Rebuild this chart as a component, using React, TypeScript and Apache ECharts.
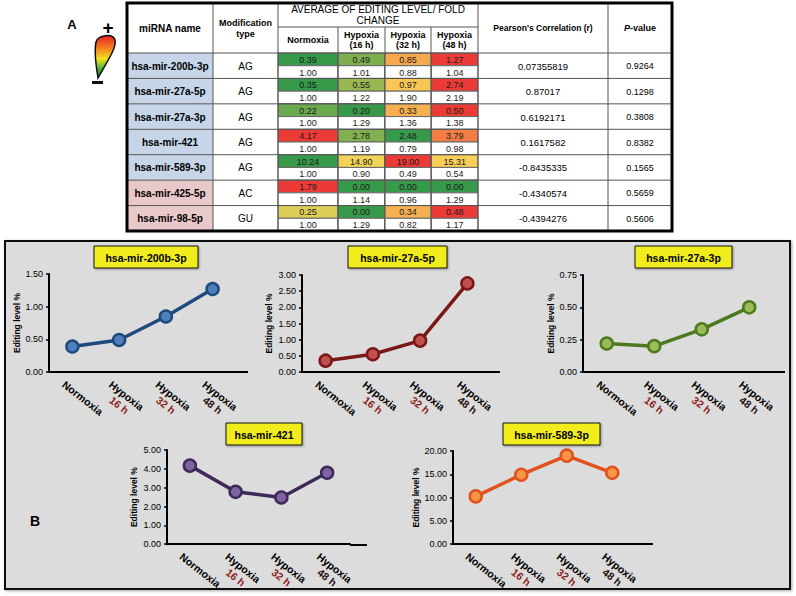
import React, { useEffect, useRef } from 'react';
import * as echarts from 'echarts';

// ---------------- DATA ----------------
const mirnas = ['hsa-mir-200b-3p', 'hsa-mir-27a-5p', 'hsa-mir-27a-3p', 'hsa-mir-421', 'hsa-mir-589-3p', 'hsa-mir-425-5p', 'hsa-mir-98-5p'];
const modTypes = ['AG', 'AG', 'AG', 'AG', 'AG', 'AC', 'GU'];
const condMain = ['Normoxia', 'Hypoxia', 'Hypoxia', 'Hypoxia'];
const condSub = ['', '16 h', '32 h', '48 h'];
const tableTimeHeaders = ['Normoxia', 'Hypoxia\n(16 h)', 'Hypoxia\n(32 h)', 'Hypoxia\n(48 h)'];

const edit200b = [0.39, 0.49, 0.85, 1.27];
const edit27a5p = [0.35, 0.55, 0.97, 2.74];
const edit27a3p = [0.22, 0.20, 0.33, 0.50];
const edit421 = [4.17, 2.78, 2.48, 3.79];
const edit589 = [10.24, 14.90, 19.00, 15.31];
const edit425 = [1.79, 0.00, 0.00, 0.00];
const edit98 = [0.25, 0.00, 0.34, 0.48];
const editingLevels = [edit200b, edit27a5p, edit27a3p, edit421, edit589, edit425, edit98];

const fold200b = [1.00, 1.01, 0.88, 1.04];
const fold27a5p = [1.00, 1.22, 1.90, 2.19];
const fold27a3p = [1.00, 1.29, 1.36, 1.38];
const fold421 = [1.00, 1.19, 0.79, 0.98];
const fold589 = [1.00, 0.90, 0.49, 0.54];
const fold425 = [1.00, 1.14, 0.96, 1.29];
const fold98 = [1.00, 1.29, 0.82, 1.17];
const foldChanges = [fold200b, fold27a5p, fold27a3p, fold421, fold589, fold425, fold98];

const pearsonR = ['0.07355819', '0.87017', '0.6192171', '0.1617582', '-0.8435335', '-0.4340574', '-0.4394276'];
const pValues = ['0.9264', '0.1298', '0.3808', '0.8382', '0.1565', '0.5659', '0.5606'];

const yMax = [1.5, 3, 0.75, 5, 20];
const yInterval = [0.5, 0.5, 0.25, 1, 5];
const yAxisName = 'Editing level %';

// ---------------- STYLE / LAYOUT ----------------
const FONT = '"Liberation Sans", Arial, Helvetica, sans-serif';
const GREEN = '#37994a';
const YELLOW = '#fad65a';
const RED = '#ec3b36';

const lineColors = ['#1f4a7c', '#7a1818', '#4d7a1f', '#3d2a5a', '#e0531c'];
const markerColors = ['#4f80bd', '#c0504d', '#9bbb59', '#8064a2', '#f79646'];

const chartLayout = [
  { left: 49, top: 274, width: 187, height: 98, axisEnd: 248, nameGap: 27, box: [94, 246, 104, 22] },
  { left: 302, top: 275, width: 189, height: 97, axisEnd: 500, nameGap: 29, box: [348, 246, 99, 22] },
  { left: 583, top: 275, width: 190, height: 97, axisEnd: 785, nameGap: 26, box: [635, 246, 97, 22] },
  { left: 167, top: 450, width: 183, height: 95, axisEnd: 367, nameGap: 29, box: [226, 423, 76, 22] },
  { left: 453, top: 451, width: 182, height: 93, axisEnd: 653, nameGap: 33, box: [503, 423, 97, 22] },
];

const TX = [127, 213, 278, 338, 385, 431, 478, 608, 672];
const TY = { top: 3, mid: 27, head: 53, bottom: 231 };

// drop-shaped colour-scale icon
echarts.graphic.registerShape(
  'dropIcon',
  echarts.graphic.extendPath('M4 46 C2 34 0 20 2 10 C4 3 19 1 21 8 C23 16 12 31 4 46 Z', {})
);

function hexToRgb(h: string) {
  const n = parseInt(h.slice(1), 16);
  return [(n >> 16) & 255, (n >> 8) & 255, n & 255];
}
function mix(a: string, b: string, t: number) {
  const A = hexToRgb(a), B = hexToRgb(b);
  const c = A.map((v, i) => Math.round(v + (B[i] - v) * t));
  return `rgb(${c[0]},${c[1]},${c[2]})`;
}
function rowColors(vals: number[]) {
  const s = [...vals].sort((a, b) => a - b);
  const min = s[0], max = s[s.length - 1];
  const n = s.length;
  const mid = n % 2 ? s[(n - 1) / 2] : (s[n / 2 - 1] + s[n / 2]) / 2;
  return vals.map((v) => {
    if (v <= mid) {
      const t = mid === min ? 0 : (v - min) / (mid - min);
      return mix(GREEN, YELLOW, t);
    }
    const t = max === mid ? 1 : (v - mid) / (max - mid);
    return mix(YELLOW, RED, t);
  });
}

function txt(text: string, x: number, y: number, size: number, weight = 'normal', extra: any = {}) {
  return {
    type: 'text', x, y, z: 12,
    style: {
      text, fill: '#000', fontSize: size, fontWeight: weight, fontFamily: FONT,
      textAlign: 'center', textVerticalAlign: 'middle', ...extra,
    },
  };
}
function hline(x1: number, x2: number, y: number, color = '#555', w = 1, z = 11) {
  return { type: 'line', z, shape: { x1, y1: y, x2, y2: y }, style: { stroke: color, lineWidth: w } };
}
function vline(x: number, y1: number, y2: number, color = '#555', w = 1, z = 11) {
  return { type: 'line', z, shape: { x1: x, y1, x2: x, y2 }, style: { stroke: color, lineWidth: w } };
}

function buildOption() {
  const rowH = (TY.bottom - TY.head) / mirnas.length;
  const graphics: any[] = [];

  // ---- panel A: icon & label ----
  graphics.push(txt('A', 72, 24, 13, 'bold'));
  graphics.push({
    type: 'dropIcon', x: 94, y: 32, z: 12,
    style: {
      fill: new echarts.graphic.LinearGradient(0, 0, 0, 1, [
        { offset: 0, color: '#e8202a' },
        { offset: 0.3, color: '#f58220' },
        { offset: 0.55, color: '#f3e31c' },
        { offset: 0.78, color: '#4fb040' },
        { offset: 1, color: '#1b7a2e' },
      ]),
      stroke: '#111', lineWidth: 1.5,
    },
  });
  graphics.push(txt('+', 108, 27, 19, 'bold'));
  graphics.push({ type: 'rect', z: 12, shape: { x: 92, y: 81, width: 11, height: 3 }, style: { fill: '#111' } });

  // ---- table ----
  graphics.push({ type: 'rect', z: -2, shape: { x: TX[0], y: TY.top, width: TX[8] - TX[0], height: TY.bottom - TY.top }, style: { fill: '#fff' } });
  mirnas.forEach((name, i) => {
    const y = TY.head + i * rowH;
    graphics.push({
      type: 'rect', z: -1,
      shape: { x: TX[0], y, width: TX[1] - TX[0], height: rowH },
      style: { fill: modTypes[i] === 'AG' ? '#c6d5e8' : '#e8c8c8' },
    });
    const cy = y + rowH / 2 + 0.5;
    graphics.push(txt(name, (TX[0] + TX[1]) / 2, cy, 10, 'bold'));
    graphics.push(txt(modTypes[i], (TX[1] + TX[2]) / 2, cy, 10));
    graphics.push(txt(pearsonR[i], (TX[6] + TX[7]) / 2, cy, 9.5));
    graphics.push(txt(pValues[i], (TX[7] + TX[8]) / 2, cy, 9));
    graphics.push(hline(TX[0], TX[8], y));
  });
  [1, 2, 6, 7].forEach((k) => graphics.push(vline(TX[k], TY.top, TY.bottom)));
  [3, 4, 5].forEach((k) => graphics.push(vline(TX[k], TY.mid, TY.bottom)));
  graphics.push(hline(TX[2], TX[6], TY.mid));
  graphics.push({
    type: 'rect', z: 13,
    shape: { x: TX[0], y: TY.top, width: TX[8] - TX[0], height: TY.bottom - TY.top },
    style: { fill: 'none', stroke: '#000', lineWidth: 3 },
  });
  // header texts
  graphics.push(txt('miRNA name', (TX[0] + TX[1]) / 2, 28, 10, 'bold'));
  graphics.push(txt('Modification\ntype', (TX[1] + TX[2]) / 2, 28, 9, 'bold', { lineHeight: 11 }));
  graphics.push(txt('AVERAGE OF EDITING LEVEL/ FOLD\nCHANGE', (TX[2] + TX[6]) / 2, 15, 10, 'normal', { lineHeight: 11 }));
  tableTimeHeaders.forEach((h, k) => {
    graphics.push(txt(h, (TX[2 + k] + TX[3 + k]) / 2, 40, 9, 'bold', { lineHeight: 10 }));
  });
  graphics.push(txt("Pearson's Correlation (r)", (TX[6] + TX[7]) / 2, 28, 8.5, 'bold'));
  graphics.push(txt('{i|P}-value', (TX[7] + TX[8]) / 2, 28, 9, 'bold', {
    rich: { i: { fontStyle: 'italic', fontWeight: 'bold', fontSize: 9, fontFamily: FONT } },
  }));

  // ---- panel B ----
  graphics.push({
    type: 'rect', z: -1,
    shape: { x: 5, y: 241, width: 785, height: 348 },
    style: { fill: '#dcdcdc', stroke: '#111', lineWidth: 2, shadowBlur: 3, shadowColor: 'rgba(0,0,0,0.35)', shadowOffsetX: 1, shadowOffsetY: 1 },
  });
  graphics.push(txt('B', 35, 521, 14, 'bold'));

  // ---- table value cells (custom series on category axes) ----
  const sub = mirnas.flatMap((_, i) => [`${i}e`, `${i}f`]);
  const normCells: number[][] = [];
  const normColors: string[] = [];
  const hypCells: number[][] = [];
  const hypColors: string[] = [];
  editingLevels.forEach((row, i) => {
    const cols = rowColors(row);
    row.forEach((v, j) => {
      const cellsArr = j === 0 ? normCells : hypCells;
      const colArr = j === 0 ? normColors : hypColors;
      const xi = j === 0 ? 0 : j - 1;
      cellsArr.push([xi, 2 * i, v]);
      colArr.push(cols[j]);
      cellsArr.push([xi, 2 * i + 1, foldChanges[i][j]]);
      colArr.push('#ffffff');
    });
  });

  const grids: any[] = [
    { left: TX[2], top: TY.head, width: TX[3] - TX[2], height: TY.bottom - TY.head },
    { left: TX[3], top: TY.head, width: TX[6] - TX[3], height: TY.bottom - TY.head },
  ];
  const hiddenCat = (data: string[], gi: number, inverse = false) => ({
    type: 'category', gridIndex: gi, data, show: false, inverse,
    axisLine: { show: false }, axisTick: { show: false }, axisLabel: { show: false }, splitLine: { show: false },
  });
  const xAxes: any[] = [hiddenCat([condMain[0]], 0), hiddenCat(['16 h', '32 h', '48 h'], 1)];
  const yAxes: any[] = [hiddenCat(sub, 0, true), hiddenCat(sub, 1, true)];

  const cellRenderer = (colors: string[]) => (params: any, api: any) => {
    const c = api.coord([api.value(0), api.value(1)]);
    const s = api.size([1, 1]);
    const v = api.value(2);
    return {
      type: 'group',
      children: [
        {
          type: 'rect',
          shape: { x: c[0] - s[0] / 2, y: c[1] - s[1] / 2, width: s[0], height: s[1] },
          style: { fill: colors[params.dataIndex], stroke: '#666', lineWidth: 1 },
        },
        {
          type: 'text',
          style: {
            text: Number(v).toFixed(2), x: c[0], y: c[1] + 0.5,
            textAlign: 'center', textVerticalAlign: 'middle', align: 'center', verticalAlign: 'middle',
            fill: '#1a1a1a', fontSize: 9, fontFamily: FONT,
          },
        },
      ],
    };
  };

  const series: any[] = [
    { type: 'custom', xAxisIndex: 0, yAxisIndex: 0, data: normCells, renderItem: cellRenderer(normColors), encode: { x: 0, y: 1 }, silent: true },
    { type: 'custom', xAxisIndex: 1, yAxisIndex: 1, data: hypCells, renderItem: cellRenderer(hypColors), encode: { x: 0, y: 1 }, silent: true },
  ];

  const categories = condMain.map((m, i) => (condSub[i] ? `${m} ${condSub[i]}` : m));
  const subColors = ['#000', '#8b1c1c', '#8b1c1c', '#2a1010'];

  chartLayout.forEach((L, i) => {
    const gi = i + 2;
    grids.push({ left: L.left, top: L.top, width: L.width, height: L.height });
    xAxes.push({
      type: 'category', gridIndex: gi, data: categories, boundaryGap: true,
      axisLine: { show: true, lineStyle: { color: '#000', width: 2 } },
      axisTick: { show: false },
      splitLine: { show: false },
      axisLabel: {
        interval: 0, rotate: -38, margin: 0, align: 'left', verticalAlign: 'top', padding: [8, 0, 0, 0],
        formatter: (_v: string, idx: number) =>
          condSub[idx] ? `{h|${condMain[idx]}}\n{t${idx}|${condSub[idx]}}` : `{h|${condMain[idx]}}`,
        rich: {
          h: { fontSize: 10.5, fontWeight: 'bold', color: '#000', fontFamily: FONT, align: 'center', lineHeight: 12 },
          t1: { fontSize: 10.5, fontWeight: 'bold', color: subColors[1], fontFamily: FONT, align: 'center', lineHeight: 12 },
          t2: { fontSize: 10.5, fontWeight: 'bold', color: subColors[2], fontFamily: FONT, align: 'center', lineHeight: 12 },
          t3: { fontSize: 10.5, fontWeight: 'bold', color: subColors[3], fontFamily: FONT, align: 'center', lineHeight: 12 },
        },
      },
    });
    yAxes.push({
      type: 'value', gridIndex: gi, min: 0, max: yMax[i], interval: yInterval[i],
      name: yAxisName, nameLocation: 'middle', nameGap: L.nameGap, nameRotate: 90,
      nameTextStyle: { fontSize: 8.5, fontWeight: 'bold', color: '#000', fontFamily: FONT },
      axisLine: { show: true, lineStyle: { color: '#000', width: 2 } },
      axisTick: { show: true, length: 3, lineStyle: { color: '#000', width: 1.5 } },
      splitLine: { show: false },
      axisLabel: { fontSize: 9, color: '#000', fontFamily: FONT, margin: 6, formatter: (v: number) => v.toFixed(2) },
    });
    series.push({
      type: 'line', name: mirnas[i], xAxisIndex: gi, yAxisIndex: gi, data: editingLevels[i],
      symbol: 'circle', symbolSize: 12, z: 4,
      lineStyle: { color: lineColors[i], width: 3.5 },
      itemStyle: { color: markerColors[i], borderColor: lineColors[i], borderWidth: 2.5 },
      emphasis: { disabled: true },
    });
    // x-axis line continues past the last category, as in the original
    graphics.push({
      type: 'line', z: 5,
      shape: { x1: L.left + L.width, y1: L.top + L.height, x2: L.axisEnd, y2: L.top + L.height },
      style: { stroke: '#000', lineWidth: 2 },
    });
    const [bx, by, bw, bh] = L.box;
    graphics.push({
      type: 'rect', z: 10, shape: { x: bx, y: by, width: bw, height: bh },
      style: { fill: '#f1ec1f', stroke: '#111', lineWidth: 1, shadowBlur: 2, shadowColor: 'rgba(0,0,0,0.35)', shadowOffsetX: 1, shadowOffsetY: 1 },
    });
    graphics.push(txt(mirnas[i], bx + bw / 2, by + bh / 2 + 0.5, 10.5, 'bold'));
  });

  return {
    animation: false,
    backgroundColor: '#ffffff',
    textStyle: { fontFamily: FONT },
    grid: grids,
    xAxis: xAxes,
    yAxis: yAxes,
    series,
    graphic: { elements: graphics },
  };
}

export default function App() {
  const ref = useRef<HTMLDivElement>(null);
  useEffect(() => {
    if (!ref.current) return;
    const chart = echarts.init(ref.current, null, { renderer: 'svg' });
    chart.setOption(buildOption() as any);
    return () => chart.dispose();
  }, []);
  return (
    <div
      ref={ref}
      style={{ position: 'absolute', left: 0, top: 0, width: 796, height: 596, background: '#fff' }}
    />
  );
}
